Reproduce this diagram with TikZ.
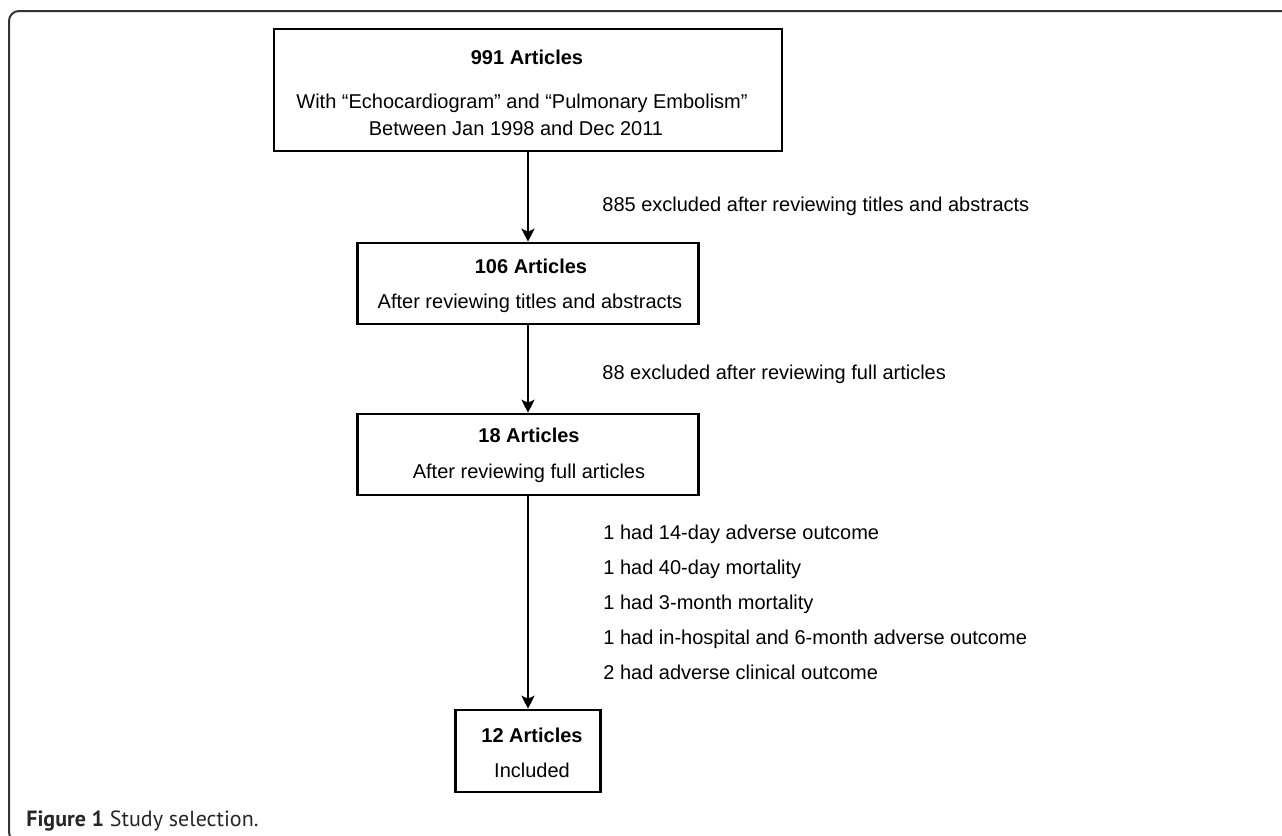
\documentclass[tikz,border=0pt]{standalone}
\usepackage{fontspec}
\setmainfont{Liberation Sans}
\newfontfamily\capfont{PT Sans}
\usetikzlibrary{arrows.meta}

\begin{document}
\begin{tikzpicture}[x=0.5pt, y=-0.5pt,
  box/.style={draw, line width=1.3pt, inner sep=0pt},
  txt/.style={anchor=base, inner sep=0pt, font=\fontsize{10}{12}\selectfont},
  note/.style={anchor=base west, inner sep=0pt, font=\fontsize{10}{12}\selectfont},
  arrow/.style={-{Stealth[length=6.5pt, width=6.5pt, inset=1.5pt]}, line width=1.3pt}]
% Set the page size (one unit is one pixel of the figure)
\def\px{0.5pt}
\useasboundingbox (0,0) rectangle (1282,836);

% Outer frame
\draw[line width=1pt, black!80, rounded corners=5pt] (40,842) -- (9,842) -- (9,11) -- (1300,11);

% Draw the boxes
\node[box, minimum width=508*\px, minimum height=122*\px] (all) at (528,90) {};
\node[box, minimum width=341*\px, minimum height=81*\px] (abs) at (528,283.5) {};
\node[box, minimum width=341*\px, minimum height=81*\px] (full) at (528,454.5) {};
\node[box, minimum width=145*\px, minimum height=82*\px] (incl) at (528,751) {};

% Insert the texts
\node[txt] (allA) at (527,64) {\textbf{991 Articles}};
\node[txt] (allB) at (522,108) {With “Echocardiogram” and “Pulmonary Embolism”};
\node[txt] (allC) at (516,135) {Between Jan 1998 and Dec 2011};
\node[txt] (absA) at (531,273) {\textbf{106 Articles}};
\node[txt] (absB) at (530,308) {After reviewing titles and abstracts};
\node[txt] (fullA) at (529,442) {\textbf{18 Articles}};
\node[txt] (fullB) at (529,478) {After reviewing full articles};
\node[txt] (inclA) at (532,742) {\textbf{12 Articles}};
\node[txt] (inclB) at (532,777) {Included};

% Exclusions
\node[note] (exA) at (602,211) {885 excluded after reviewing titles and abstracts};
\node[note] (exB) at (602,379) {88 excluded after reviewing full articles};
\node[note] (exC1) at (603,539) {1 had 14-day adverse outcome};
\node[note] (exC2) at (603,574) {1 had 40-day mortality};
\node[note] (exC3) at (603,609) {1 had 3-month mortality};
\node[note] (exC4) at (603,644) {1 had in-hospital and 6-month adverse outcome};
\node[note] (exC5) at (603,679) {2 had adverse clinical outcome};

% Arrows
\draw[arrow] (all.south) -- (abs.north);
\draw[arrow] (abs.south) -- (full.north);
\draw[arrow] (full.south) -- (incl.north);

\node[anchor=base west, inner sep=0pt, text=black!85, font=\capfont\fontsize{11}{13}\selectfont] (caption) at (26,826) {\textbf{Figure 1} Study selection.};
\end{tikzpicture}
\end{document}
